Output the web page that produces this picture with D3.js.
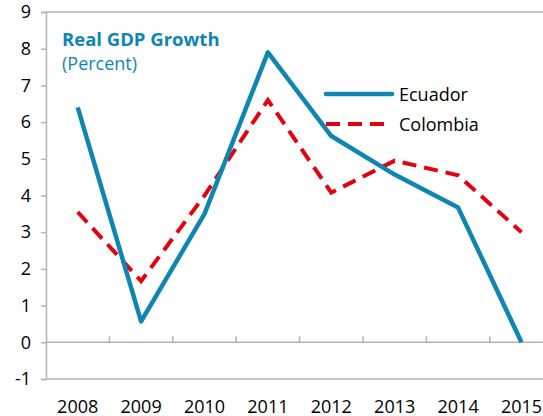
<!DOCTYPE html>
<html>
<head>
<meta charset="utf-8">
<script src="https://cdn.jsdelivr.net/npm/d3@7"></script>
<style>
  body { margin: 0; background: #fff; }
  text { font-family: "Open Sans", "Noto Sans", sans-serif; }
</style>
</head>
<body>
<svg width="543" height="416"></svg>
<script>
var years = ['2008', '2009', '2010', '2011', '2012', '2013', '2014', '2015'];
var ecuador = [6.4, 0.57, 3.5, 7.9, 5.62, 4.57, 3.67, 0.0];
var colombia = [3.55, 1.67, 4.0, 6.6, 4.08, 4.95, 4.55, 3.0];
var yTicks = [-1, 0, 1, 2, 3, 4, 5, 6, 7, 8, 9];

var svg = d3.select('svg'),
  width = +svg.attr('width'),
  height = +svg.attr('height');

var plotLeft = 46,
  plotTop = 12,
  plotBottom = 379,
  step = 63.4;

var x = d3.scaleBand().domain(years).range([plotLeft, plotLeft + step * years.length]);
var y = d3.scaleLinear().domain([-1, 9]).range([plotBottom, plotTop]);

var gray = '#b3b3b3';
var blue = '#0e86b1';
var red = '#e4000f';

// frame
svg.append('line')
  .attr('x1', plotLeft).attr('x2', width)
  .attr('y1', plotTop).attr('y2', plotTop)
  .attr('stroke', gray).attr('stroke-width', 1.5);
svg.append('line')
  .attr('x1', plotLeft).attr('x2', width)
  .attr('y1', plotBottom).attr('y2', plotBottom)
  .attr('stroke', gray).attr('stroke-width', 1.5);

// y axis (plain hyphen for negatives, like the original)
var yAxis = svg.append('g')
  .attr('transform', 'translate(' + plotLeft + ',0)')
  .call(d3.axisLeft(y).tickValues(yTicks).tickSize(5).tickPadding(10)
    .tickFormat(function(d) { return String(d); }));
yAxis.select('.domain').attr('stroke', gray).attr('stroke-width', 1.5);
yAxis.selectAll('.tick line').attr('stroke', gray).attr('stroke-width', 1.5);
yAxis.selectAll('text').attr('font-size', 18).attr('fill', '#000')
  .attr('font-family', '"Open Sans", sans-serif');

// zero line with category ticks
svg.append('line')
  .attr('x1', plotLeft).attr('x2', width)
  .attr('y1', y(0)).attr('y2', y(0))
  .attr('stroke', gray).attr('stroke-width', 1.5);
svg.append('g')
  .selectAll('line')
  .data(years.slice(1))
  .enter()
  .append('line')
  .attr('x1', function(d) { return x(d); })
  .attr('x2', function(d) { return x(d); })
  .attr('y1', y(0))
  .attr('y2', y(0) - 6)
  .attr('stroke', gray)
  .attr('stroke-width', 1.5);

// x labels
svg.append('g')
  .selectAll('text')
  .data(years)
  .enter()
  .append('text')
  .attr('x', function(d) { return x(d) + x.bandwidth() / 2; })
  .attr('y', 413)
  .attr('text-anchor', 'middle')
  .attr('font-size', 18)
  .attr('fill', '#000')
  .text(function(d) { return d; });

// lines
var line = d3.line()
  .x(function(d, i) { return x(years[i]) + x.bandwidth() / 2; })
  .y(function(d) { return y(d); });

svg.append('path')
  .datum(colombia)
  .attr('d', line)
  .attr('fill', 'none')
  .attr('stroke', red)
  .attr('stroke-width', 4)
  .attr('stroke-dasharray', '14,8');

svg.append('path')
  .datum(ecuador)
  .attr('d', line)
  .attr('fill', 'none')
  .attr('stroke', blue)
  .attr('stroke-width', 4.5)
  .attr('stroke-linejoin', 'round');

// title
svg.append('text')
  .attr('x', 62).attr('y', 46)
  .attr('font-size', 18.5).attr('font-weight', 'bold')
  .attr('fill', blue)
  .text('Real GDP Growth');
svg.append('text')
  .attr('x', 62).attr('y', 70)
  .attr('font-size', 18)
  .attr('fill', blue)
  .text('(Percent)');

// legend
var legend = [
  { name: 'Ecuador', color: blue, dash: null, y: 94 },
  { name: 'Colombia', color: red, dash: '14,8', y: 124 }
];
var lg = svg.append('g')
  .selectAll('g')
  .data(legend)
  .enter()
  .append('g');
lg.append('line')
  .attr('x1', 326).attr('x2', 392)
  .attr('y1', function(d) { return d.y; })
  .attr('y2', function(d) { return d.y; })
  .attr('stroke', function(d) { return d.color; })
  .attr('stroke-width', function(d) { return d.dash ? 4 : 4.5; })
  .attr('stroke-linecap', function(d) { return d.dash ? 'butt' : 'round'; })
  .attr('stroke-dasharray', function(d) { return d.dash; });
lg.append('text')
  .attr('x', 399)
  .attr('y', function(d) { return d.y + 7; })
  .attr('font-size', 18)
  .attr('fill', '#000')
  .text(function(d) { return d.name; });
</script>
</body>
</html>
